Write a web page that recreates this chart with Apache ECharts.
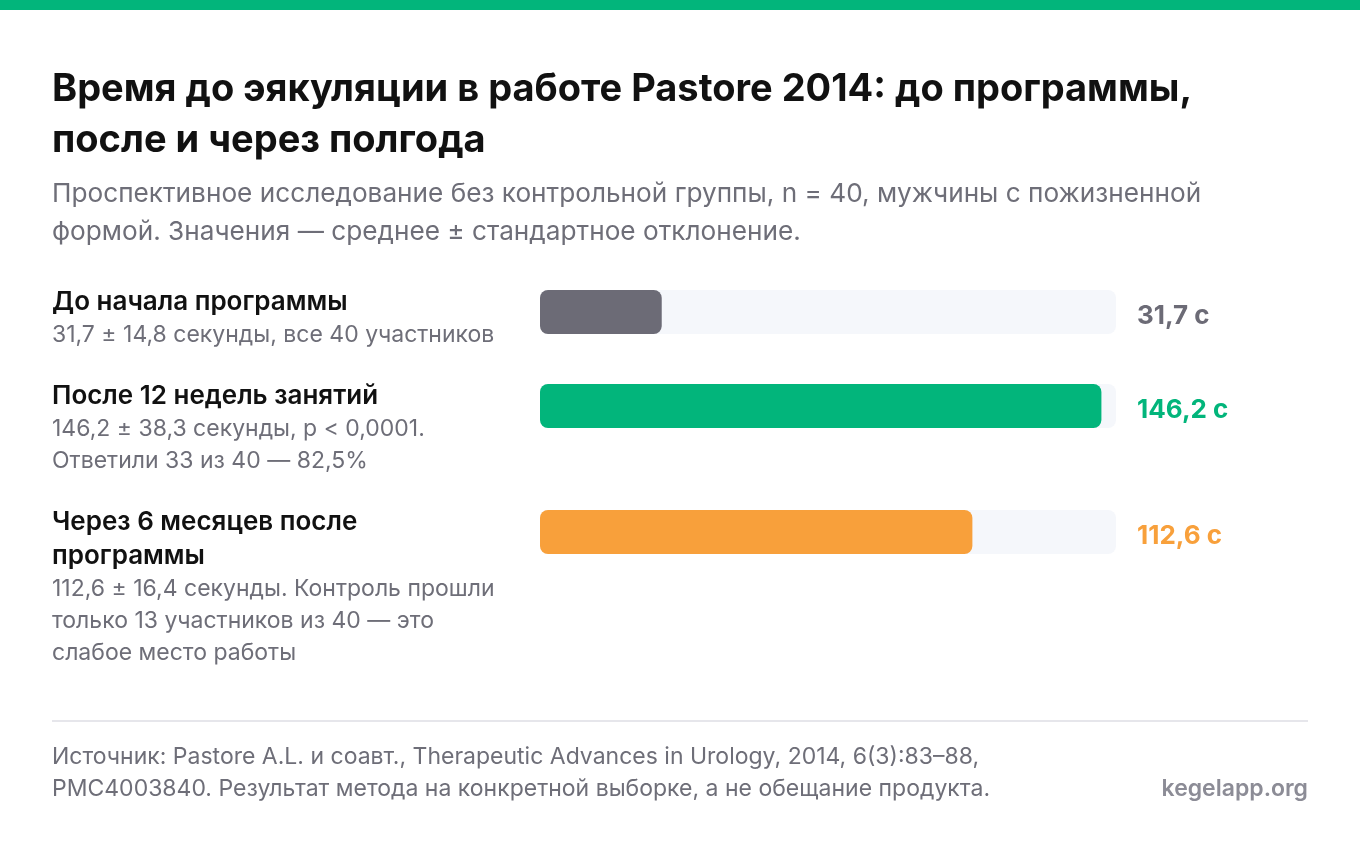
<!DOCTYPE html>
<html>
<head>
    <meta charset="UTF-8">
    <title>Pastore 2014</title>
    <script src="https://cdn.jsdelivr.net/npm/echarts@6/dist/echarts.min.js"></script>
    <style>
        html, body { margin: 0; padding: 0; background: #fff; }
        #main { width: 1360px; height: 858px; }
    </style>
</head>
<body>
    <div id="main"></div>

    <script type="text/javascript">
        // данные
        const categories = ['До начала программы', 'После 12 недель занятий', 'Через 6 месяцев после\nпрограммы'];
        const details = [
            '31,7 ± 14,8 секунды, все 40 участников',
            '146,2 ± 38,3 секунды, p < 0,0001.\nОтветили 33 из 40 — 82,5%',
            '112,6 ± 16,4 секунды. Контроль прошли\nтолько 13 участников из 40 — это\nслабое место работы'
        ];
        const values = [31.7, 146.2, 112.6];
        const axisMax = 150;
        const barColors = ['#6c6b76', '#02b57b', '#f8a03b'];

        const titleText = 'Время до эякуляции в работе Pastore 2014: до программы,\nпосле и через полгода';
        const subtitleText = 'Проспективное исследование без контрольной группы, n = 40, мужчины с пожизненной\nформой. Значения — среднее ± стандартное отклонение.';
        const sourceText = 'Источник: Pastore A.L. и соавт., Therapeutic Advances in Urology, 2014, 6(3):83–88,\nPMC4003840. Результат метода на конкретной выборке, а не обещание продукта.';
        const brandText = 'kegelapp.org';

        // центры полос по вертикали
        const rowCenters = [312, 406, 532];
        const font = 'Inter, "Noto Sans", sans-serif';

        var myChart = echarts.init(document.getElementById('main'), null, { renderer: 'canvas' });

        const graphics = [
            { type: 'rect', shape: { x: 0, y: 0, width: 1360, height: 10 }, style: { fill: '#02b57b' } },
            {
                type: 'text', x: 52, y: 64,
                style: { text: titleText, fontFamily: font, fontSize: 38, fontWeight: 700, fill: '#111111', lineHeight: 51, verticalAlign: 'top' }
            },
            {
                type: 'text', x: 52, y: 175,
                style: { text: subtitleText, fontFamily: font, fontSize: 26.2, fontWeight: 400, fill: '#6e6e78', lineHeight: 38, verticalAlign: 'top' }
            },
            { type: 'line', shape: { x1: 52, y1: 721, x2: 1308, y2: 721 }, style: { stroke: '#e6e6eb', lineWidth: 2 } },
            {
                type: 'text', x: 52, y: 741,
                style: { text: sourceText, fontFamily: font, fontSize: 23, fill: '#6e6e78', lineHeight: 32, verticalAlign: 'top' }
            },
            {
                type: 'text', x: 1308, y: 789,
                style: { text: brandText, fontFamily: font, fontSize: 23, fontWeight: 600, fill: '#8c8c96', align: 'right', verticalAlign: 'middle' }
            }
        ];

        categories.forEach(function (name, i) {
            const nLines = name.split('\n').length;
            const top = rowCenters[i] - 10 - 17;
            graphics.push({
                type: 'text', x: 52, y: top,
                style: { text: name, fontFamily: font, fontSize: 26, fontWeight: 600, fill: '#111111', lineHeight: 34, verticalAlign: 'top' }
            });
            graphics.push({
                type: 'text', x: 52, y: top + nLines * 34,
                style: { text: details[i], fontFamily: font, fontSize: 23, fontWeight: 400, fill: '#6e6e78', lineHeight: 32, verticalAlign: 'top' }
            });
        });

        var option = {
            animation: false,
            backgroundColor: '#ffffff',
            grid: rowCenters.map(c => ({ left: 540, top: c - 22, width: 576, height: 44 })),
            xAxis: values.map((v, i) => ({ type: 'value', gridIndex: i, min: 0, max: axisMax, show: false })),
            yAxis: values.map((v, i) => ({ type: 'category', gridIndex: i, data: [categories[i]], show: false })),
            series: values.map((v, i) => ({
                type: 'bar',
                xAxisIndex: i,
                yAxisIndex: i,
                data: [v],
                barWidth: 44,
                showBackground: true,
                backgroundStyle: { color: '#f5f7fb', borderRadius: 8 },
                itemStyle: { color: barColors[i], borderRadius: 8 },
                label: {
                    show: true,
                    position: [597, 26],
                    align: 'left',
                    verticalAlign: 'middle',
                    fontFamily: font,
                    fontSize: 26,
                    fontWeight: 700,
                    color: barColors[i],
                    formatter: p => p.value.toFixed(1).replace('.', ',') + ' с'
                }
            })),
            graphic: graphics
        };

        myChart.setOption(option);
    </script>
</body>
</html>
